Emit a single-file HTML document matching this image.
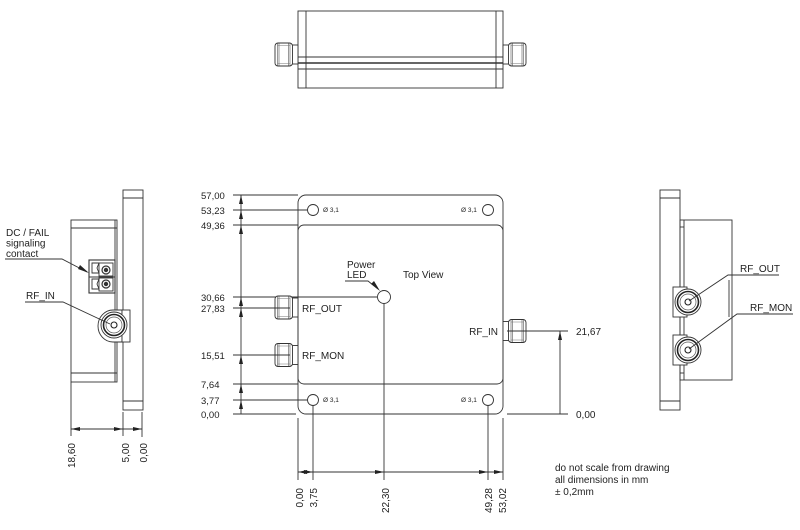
<!DOCTYPE html>
<html><head><meta charset="utf-8"><style>
html,body{margin:0;padding:0;background:#fff;}
svg{display:block;}
text{font-family:"Liberation Sans",Arial,sans-serif;fill:#222;}
</style></head><body>
<svg width="800" height="530" viewBox="0 0 800 530" xmlns="http://www.w3.org/2000/svg">
<defs>
<g id="conn">
  <rect x="-6" y="-9.5" width="6" height="19" fill="#fff" stroke="#333" stroke-width="0.9"/>
  <rect x="-23" y="-11.5" width="17.5" height="23" rx="3" fill="#fff" stroke="#333" stroke-width="0.9"/>
  <line x1="-20.5" y1="-11" x2="-20.5" y2="11" stroke="#555" stroke-width="0.6"/>
  <line x1="-19" y1="-11" x2="-19" y2="11" stroke="#555" stroke-width="0.6"/>
  <line x1="-9.5" y1="-11" x2="-9.5" y2="11" stroke="#555" stroke-width="0.6"/>
  <line x1="-8" y1="-11" x2="-8" y2="11" stroke="#555" stroke-width="0.6"/>
  <line x1="-20.5" y1="-9" x2="-8" y2="-9" stroke="#777" stroke-width="0.5"/>
  <line x1="-20.5" y1="9" x2="-8" y2="9" stroke="#777" stroke-width="0.5"/>
</g>
<g id="sma">
  <circle r="13" fill="#fff" stroke="#333" stroke-width="0.9"/>
  <circle r="10.5" fill="none" stroke="#222" stroke-width="1.6"/>
  <circle r="8" fill="none" stroke="#555" stroke-width="0.7"/>
  <circle r="3" fill="#fff" stroke="#222" stroke-width="1.1"/>
</g>
</defs>

<g stroke="#333" stroke-width="0.9" fill="none">
<!-- ===== Top elevation view ===== -->
<rect x="298" y="11" width="205" height="77"/>
<line x1="306" y1="11" x2="306" y2="88"/>
<line x1="496" y1="11" x2="496" y2="88"/>
<line x1="298" y1="57" x2="503" y2="57"/>
<line x1="298" y1="63" x2="503" y2="63" stroke-width="1.5"/>
<line x1="298" y1="69" x2="503" y2="69"/>
</g>
<use href="#conn" transform="translate(298,54.5)"/>
<use href="#conn" transform="translate(503,54.5) scale(-1,1)"/>

<!-- ===== Left side view ===== -->
<g stroke="#333" stroke-width="0.9" fill="none">
<rect x="123" y="190" width="20" height="220"/>
<line x1="123" y1="198" x2="143" y2="198"/>
<line x1="123" y1="401" x2="143" y2="401"/>
<rect x="71" y="220" width="46" height="162"/>
<line x1="115" y1="220" x2="115" y2="382"/>
<line x1="71" y1="228" x2="117" y2="228"/>
<line x1="71" y1="373" x2="117" y2="373"/>
<!-- DC block -->
<rect x="89" y="260" width="26" height="33" fill="#fff" stroke-width="1.1"/>
<line x1="89" y1="277" x2="115" y2="277"/>
<path d="M92 263 L99 263 L97 268 L99 273 L92 273 Z"/>
<path d="M92 279 L99 279 L97 284 L99 289 L92 289 Z"/>
<rect x="99" y="263" width="14" height="13"/>
<rect x="99" y="278" width="14" height="13"/>
<circle cx="106" cy="270" r="4" stroke-width="1.2"/>
<circle cx="106" cy="284" r="4" stroke-width="1.2"/>
</g>
<circle cx="106" cy="270" r="2.2" fill="#333"/>
<circle cx="106" cy="284" r="2.2" fill="#333"/>
<!-- RF_IN side connector -->
<path d="M113 310 A15 16 0 0 0 113 342 L122 342 L122 310 Z" fill="#fff" stroke="#333" stroke-width="0.9"/>
<rect x="122" y="310" width="8" height="32" fill="#fff" stroke="#333" stroke-width="0.9"/>
<use href="#sma" transform="translate(114,325)"/>
<!-- left side dims -->
<g stroke="#333" stroke-width="0.9" fill="none">
<line x1="71" y1="382" x2="71" y2="436"/>
<line x1="123" y1="412" x2="123" y2="436"/>
<line x1="142" y1="412" x2="142" y2="437"/>
<line x1="71" y1="429" x2="142" y2="429"/>
</g>
<g fill="#222">
<polygon points="71,429 80,427 80,431"/>
<polygon points="123,429 114,427 114,431"/>
<polygon points="142,429 133,427 133,431"/>
</g>
<g font-size="10">
<text transform="translate(75,443) rotate(-90)" text-anchor="end">18,60</text>
<text transform="translate(129,443) rotate(-90)" text-anchor="end">5,00</text>
<text transform="translate(147,443) rotate(-90)" text-anchor="end">0,00</text>
</g>
<!-- left labels -->
<g font-size="10">
<text x="6" y="236">DC / FAIL</text>
<text x="6" y="246.5">signaling</text>
<text x="6" y="257">contact</text>
<text x="26" y="299">RF_IN</text>
</g>
<g stroke="#333" stroke-width="0.9" fill="none">
<polyline points="5,259 62,259 87,272"/>
<polyline points="25,302 63,302 110,324"/>
</g>
<polygon points="89,273 80,265 78,269" fill="#222"/>

<!-- ===== Center top view ===== -->
<g stroke="#333" stroke-width="0.9" fill="none">
<rect x="298" y="195" width="205" height="219" rx="8"/>
<rect x="298" y="225" width="205" height="159" rx="6"/>
<circle cx="313" cy="210" r="5.5"/>
<circle cx="488" cy="210" r="5.5"/>
<circle cx="313" cy="400" r="5.5"/>
<circle cx="488" cy="400" r="5.5"/>
<circle cx="384" cy="297" r="6.5"/>
<!-- left dim lines -->
<line x1="233" y1="195" x2="298" y2="195"/>
<line x1="233" y1="210" x2="307" y2="210"/>
<line x1="233" y1="225" x2="298" y2="225"/>
<line x1="233" y1="297" x2="377" y2="297"/>
<line x1="233" y1="308" x2="292" y2="308"/>
<line x1="233" y1="355" x2="292" y2="355"/>
<line x1="233" y1="384" x2="298" y2="384"/>
<line x1="233" y1="400" x2="307" y2="400"/>
<line x1="233" y1="414" x2="296" y2="414"/>
<line x1="241" y1="195" x2="241" y2="414"/>
<!-- bottom dim lines -->
<line x1="298" y1="418" x2="298" y2="480"/>
<line x1="313" y1="406" x2="313" y2="480"/>
<line x1="384" y1="304" x2="384" y2="480"/>
<line x1="488" y1="406" x2="488" y2="480"/>
<line x1="503" y1="418" x2="503" y2="480"/>
<line x1="298" y1="472" x2="503" y2="472"/>
<!-- right dim -->
<line x1="503" y1="331" x2="568" y2="331"/>
<line x1="507" y1="414" x2="568" y2="414"/>
<line x1="560" y1="331" x2="560" y2="414"/>
<!-- LED leader -->
<polyline points="345,281 368,281 378,289"/>
</g>
<use href="#conn" transform="translate(298,307.5)"/>
<use href="#conn" transform="translate(298,355)"/>
<use href="#conn" transform="translate(503,331) scale(-1,1)"/>
<line x1="233" y1="308" x2="290" y2="308" stroke="#333" stroke-width="0.9"/>
<line x1="233" y1="355" x2="290" y2="355" stroke="#333" stroke-width="0.9"/>
<line x1="507" y1="331" x2="568" y2="331" stroke="#333" stroke-width="0.9"/>
<g fill="#222">
<polygon points="241,195 239,204 243,204"/>
<polygon points="241,210 239,219 243,219"/>
<polygon points="241,225 239,234 243,234"/>
<polygon points="241,297 239,306 243,306"/>
<polygon points="241,308 239,317 243,317"/>
<polygon points="241,355 239,364 243,364"/>
<polygon points="241,384 239,393 243,393"/>
<polygon points="241,400 239,409 243,409"/>
<polygon points="298,472 307,470 307,474"/>
<polygon points="313,472 304,470 304,474"/>
<polygon points="384,472 375,470 375,474"/>
<polygon points="488,472 479,470 479,474"/>
<polygon points="503,472 494,470 494,474"/>
<polygon points="560,331 558,340 562,340"/>
<polygon points="380,291 371,284 374,281"/>
</g>
<g font-size="9.5">
<text x="201" y="199">57,00</text>
<text x="201" y="214">53,23</text>
<text x="201" y="229">49,36</text>
<text x="201" y="301">30,66</text>
<text x="201" y="312">27,83</text>
<text x="201" y="359">15,51</text>
<text x="201" y="388">7,64</text>
<text x="201" y="404">3,77</text>
<text x="201" y="418">0,00</text>
</g>
<g font-size="6.5">
<text x="323" y="212">Ø 3,1</text>
<text x="461" y="212">Ø 3,1</text>
<text x="323" y="402">Ø 3,1</text>
<text x="461" y="402">Ø 3,1</text>
</g>
<g font-size="10">
<text x="302" y="312">RF_OUT</text>
<text x="302" y="359">RF_MON</text>
<text x="498" y="335" text-anchor="end">RF_IN</text>
<text x="347" y="268">Power</text>
<text x="347" y="278">LED</text>
<text x="403" y="278">Top View</text>
<text x="576" y="335">21,67</text>
<text x="576" y="418">0,00</text>
<text transform="translate(303,488) rotate(-90)" text-anchor="end">0,00</text>
<text transform="translate(317,488) rotate(-90)" text-anchor="end">3,75</text>
<text transform="translate(389,488) rotate(-90)" text-anchor="end">22,30</text>
<text transform="translate(492,488) rotate(-90)" text-anchor="end">49,28</text>
<text transform="translate(506,488) rotate(-90)" text-anchor="end">53,02</text>
<text x="555" y="471">do not scale from drawing</text>
<text x="555" y="483">all dimensions in mm</text>
<text x="555" y="495">± 0,2mm</text>
</g>

<!-- ===== Right side view ===== -->
<g stroke="#333" stroke-width="0.9" fill="none">
<rect x="660" y="190" width="20" height="220"/>
<line x1="660" y1="198" x2="680" y2="198"/>
<line x1="660" y1="401" x2="680" y2="401"/>
<rect x="680" y="220" width="52" height="160"/>
<line x1="684" y1="220" x2="684" y2="380"/>
<line x1="680" y1="227" x2="684" y2="227"/>
<line x1="680" y1="373" x2="684" y2="373"/>
<line x1="729" y1="280" x2="729" y2="317"/>
</g>
<rect x="673" y="287" width="14" height="30" fill="#fff" stroke="#333" stroke-width="0.9"/>
<rect x="673" y="335" width="14" height="30" fill="#fff" stroke="#333" stroke-width="0.9"/>
<use href="#sma" transform="translate(688,302)"/>
<use href="#sma" transform="translate(688,350)"/>
<g stroke="#333" stroke-width="0.9" fill="none">
<polyline points="779,275 728,275 689,301"/>
<polyline points="793,314 737,314 689,349"/>
</g>
<g font-size="10">
<text x="740" y="272">RF_OUT</text>
<text x="750" y="311">RF_MON</text>
</g>
</svg>
</body></html>
